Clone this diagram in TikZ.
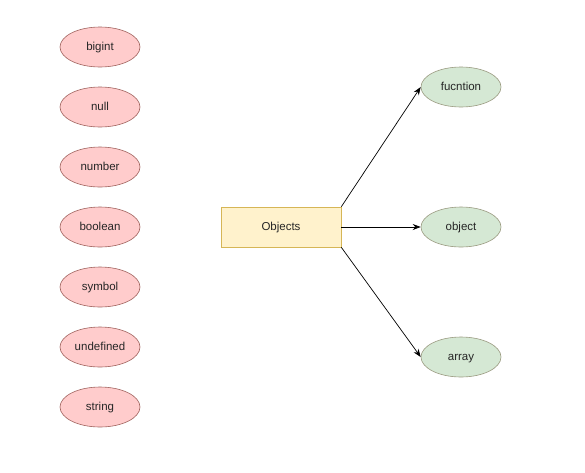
\documentclass[tikz,border=0pt]{standalone}
\usepackage{fontspec}
\setmainfont{Liberation Sans}
\usetikzlibrary{shapes.geometric,arrows.meta}
\definecolor{pinkfill}{HTML}{FFCCCC}
\definecolor{pinkline}{HTML}{A0635E}
\definecolor{yelfill}{HTML}{FFF2CC}
\definecolor{yelline}{HTML}{D6B656}
\definecolor{grnfill}{HTML}{D5E8D4}
\definecolor{grnline}{HTML}{9A9A80}
\tikzset{
  every node/.style={font=\fontsize{11.5}{13}\selectfont, text=black!85, text height=6pt, text depth=0pt},
  prim/.style={ellipse, draw=pinkline, fill=pinkfill, minimum width=80pt, minimum height=40pt, inner sep=0pt, line width=0.6pt},
  kind/.style={ellipse, draw=grnline, fill=grnfill, minimum width=80pt, minimum height=40pt, inner sep=0pt, line width=0.6pt},
  objbox/.style={rectangle, draw=yelline, fill=yelfill, minimum width=120pt, minimum height=40pt, inner sep=0pt, line width=0.6pt},
  link/.style={-{Stealth[length=8pt,width=6pt]}, line width=0.7pt, black}
}
\begin{document}
\begin{tikzpicture}[x=1pt,y=-1pt]
\useasboundingbox (0,0) rectangle (585,472);
\node[prim] (bigint) at (100,47) {bigint};
\node[prim] (null) at (100,107) {null};
\node[prim] (number) at (100,167) {number};
\node[prim] (boolean) at (100,227) {boolean};
\node[prim] (symbol) at (100,287) {symbol};
\node[prim] (undefined) at (100,347) {undefined};
\node[prim] (string) at (100,407) {string};
\node[objbox] (objects) at (281,227) {Objects};
\node[kind] (fucntion) at (461,87) {fucntion};
\node[kind] (object) at (461,227) {object};
\node[kind] (array) at (461,357) {array};
\draw[link] (objects.north east) -- (fucntion.west);
\draw[link] (objects.east) -- (object.west);
\draw[link] (objects.south east) -- (array.west);
\end{tikzpicture}
\end{document}
